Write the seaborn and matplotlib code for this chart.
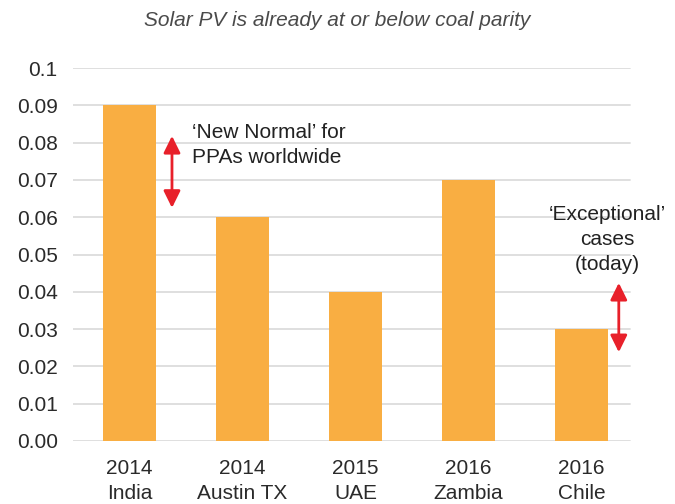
import matplotlib
matplotlib.use("Agg")
import matplotlib.pyplot as plt
import seaborn as sns
import pandas as pd

categories = ["2014\nIndia", "2014\nAustin TX", "2015\nUAE", "2016\nZambia", "2016\nChile"]
values = [0.09, 0.06, 0.04, 0.07, 0.03]
ytick_values = [0.0, 0.01, 0.02, 0.03, 0.04, 0.05, 0.06, 0.07, 0.08, 0.09, 0.1]
ytick_labels = ["0.00", "0.01", "0.02", "0.03", "0.04", "0.05", "0.06", "0.07", "0.08", "0.09", "0.1"]
title = "Solar PV is already at or below coal parity"

sns.set_theme(style="white")
plt.rcParams['font.family'] = ['Liberation Sans', 'DejaVu Sans']

df = pd.DataFrame({"cat": categories, "val": values})
fig = plt.figure(figsize=(6.75, 5.04), dpi=100)
ax = fig.add_axes([73/675, 1 - 441/504, 565/675, 373/504])

ax.set_axisbelow(True)
for y in ytick_values:
    ax.axhline(y, color="#dcdcdc", lw=1.3, zorder=0, xmin=0, xmax=0.985)

sns.barplot(data=df, x="cat", y="val", color="#F9AE42", saturation=1, width=0.47,
            linewidth=0, ax=ax, zorder=2)
ax.set_xlim(-0.5, 4.5)
ax.set_ylim(0, 0.1)
ax.set_yticks(ytick_values)
ax.set_yticklabels(ytick_labels)
ax.set_xlabel("")
ax.set_ylabel("")
for s in ax.spines.values():
    s.set_visible(False)
ax.tick_params(axis="both", length=0, colors="#2a2a2a", labelsize=15)
ax.tick_params(axis="y", pad=11)
ax.tick_params(axis="x", pad=13)
for lbl in ax.get_xticklabels():
    lbl.set_linespacing(1.4)

fig.text(0.5, 1 - 20/504, title, ha="center", va="center", fontsize=15, style="italic", color="#4a4a4a")

red = "#E8202A"
astyle = "<|-|>,head_length=0.85,head_width=0.42"
ax.annotate("", xy=(0.376, 0.0625), xytext=(0.376, 0.0818),
            arrowprops=dict(arrowstyle=astyle, color=red, lw=2, shrinkA=0, shrinkB=0), zorder=5)
ax.text(0.55, 0.0794, "\u2018New Normal\u2019 for\nPPAs worldwide", ha="left", va="center",
        fontsize=15, color="#222222", linespacing=1.4)
ax.annotate("", xy=(4.33, 0.0238), xytext=(4.33, 0.0424),
            arrowprops=dict(arrowstyle=astyle, color=red, lw=2, shrinkA=0, shrinkB=0), zorder=5)
ax.text(4.23, 0.0541, "\u2018Exceptional\u2019\ncases\n(today)", ha="center", va="center",
        fontsize=15, color="#222222", linespacing=1.4, clip_on=False)

fig.savefig("out.png", dpi=100)
